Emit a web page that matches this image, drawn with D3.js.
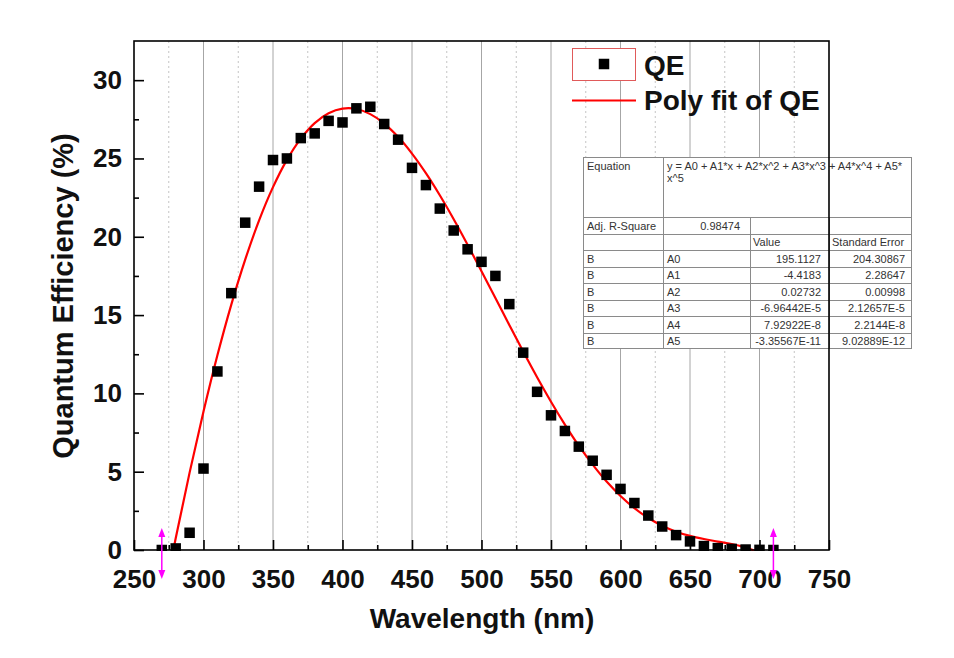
<!DOCTYPE html>
<html>
<head>
<meta charset="utf-8">
<script src="https://cdn.jsdelivr.net/npm/d3@7"></script>
<style>
  html, body { margin: 0; padding: 0; background: #fff; }
  svg { display: block; font-family: "Liberation Sans", Arial, sans-serif; }
</style>
</head>
<body>
<svg id="chart" width="954" height="658"></svg>
<script>
// ---------- data ----------
const wavelength = [270,280,290,300,310,320,330,340,350,360,370,380,390,400,410,420,430,440,450,460,470,480,490,500,510,520,530,540,550,560,570,580,590,600,610,620,630,640,650,660,670,680,690,700,710];
const qe = [0,0.1,1.1,5.2,11.4,16.4,20.9,23.2,24.9,25.0,26.3,26.6,27.4,27.3,28.2,28.3,27.2,26.2,24.4,23.3,21.8,20.4,19.2,18.4,17.5,15.7,12.6,10.1,8.6,7.6,6.6,5.7,4.8,3.9,3.0,2.2,1.5,0.95,0.55,0.25,0.12,0.07,0.03,0.01,0];
const fitQE = [-3.69,0.75,4.94,8.84,12.43,15.67,18.54,21.05,23.17,24.91,26.27,27.26,27.89,28.18,28.16,27.83,27.23,26.38,25.31,24.06,22.65,21.12,19.49,17.80,16.09,14.37,12.67,11.03,9.47,8.01,6.66,5.45,4.37,3.45,2.67,2.04,1.55,1.17,0.90,0.70,0.54,0.38,0.15,-0.19,-0.71];
const rangeMarks = [270, 710];
const xTicks = [250,300,350,400,450,500,550,600,650,700,750];
const xMinor = [275,325,375,425,475,525,575,625,675,725];
const yTicks = [0,5,10,15,20,25,30];
const yMinor = [2.5,7.5,12.5,17.5,22.5,27.5];
const legendLabels = ["QE", "Poly fit of QE"];
const equationText = ["y = A0 + A1*x + A2*x^2 + A3*x^3 + A4*x^4 + A5*", "x^5"];
const adjR2 = "0.98474";
const paramNames = ["A0","A1","A2","A3","A4","A5"];
const paramValues = ["195.1127","-4.4183","0.02732","-6.96442E-5","7.92922E-8","-3.35567E-11"];
const paramErrors = ["204.30867","2.28647","0.00998","2.12657E-5","2.2144E-8","9.02889E-12"];

// ---------- layout ----------
const L = 134, R = 829, T = 41, B = 550;
const svg = d3.select("#chart");
svg.append("rect").attr("width", 954).attr("height", 658).attr("fill", "#fff");

const x = d3.scaleLinear().domain([250, 750]).range([L, R]);
const y = d3.scaleLinear().domain([0, 32.5]).range([B, T]);

svg.append("defs").append("clipPath").attr("id", "plotclip")
  .append("rect").attr("x", L).attr("y", T).attr("width", R - L).attr("height", B - T + 1);

// grid
const grid = svg.append("g");
grid.selectAll("line.maj").data(xTicks.filter(d => d > 250 && d < 750)).enter().append("line")
  .attr("x1", d => x(d)).attr("x2", d => x(d)).attr("y1", T).attr("y2", B)
  .attr("stroke", "#a6a6a6").attr("stroke-width", 1);
grid.selectAll("line.min").data(xMinor).enter().append("line")
  .attr("x1", d => x(d)).attr("x2", d => x(d)).attr("y1", T).attr("y2", B)
  .attr("stroke", "#c4c4c4").attr("stroke-width", 1).attr("stroke-dasharray", "2,3");

// axes
const fontTick = 26;
const xAxis = d3.axisBottom(x).tickValues(xTicks).tickSizeInner(-10).tickSizeOuter(0).tickPadding(19.5).tickFormat(d3.format("d"));
const gx = svg.append("g").attr("transform", `translate(0,${B})`).call(xAxis);
const xAxisMinor = d3.axisBottom(x).tickValues(xMinor).tickSizeInner(-5).tickSizeOuter(0).tickFormat("");
const gxm = svg.append("g").attr("transform", `translate(0,${B})`).call(xAxisMinor);

const yAxis = d3.axisLeft(y).tickValues(yTicks).tickSizeInner(-10).tickSizeOuter(0).tickPadding(12).tickFormat(d3.format("d"));
const gy = svg.append("g").attr("transform", `translate(${L},0)`).call(yAxis);
const yAxisMinor = d3.axisLeft(y).tickValues(yMinor).tickSizeInner(-5).tickSizeOuter(0).tickFormat("");
const gym = svg.append("g").attr("transform", `translate(${L},0)`).call(yAxisMinor);

[gx, gxm, gy, gym].forEach(g => {
  g.select(".domain").remove();
  g.selectAll(".tick line").attr("stroke", "#000").attr("stroke-width", 1.6);
  g.selectAll(".tick text").attr("fill", "#111").attr("font-size", fontTick).attr("font-weight", "bold")
    .attr("font-family", "'Liberation Sans', Arial, sans-serif");
});

// fit line
const line = d3.line().x((d, i) => x(wavelength[i])).y(d => y(d)).curve(d3.curveCatmullRom.alpha(0.5));
svg.append("path").datum(fitQE).attr("clip-path", "url(#plotclip)")
  .attr("d", line).attr("fill", "none").attr("stroke", "#ff0000").attr("stroke-width", 2.2);

// data markers
const ms = 10.5;
svg.append("g").attr("clip-path", "url(#plotclip)").selectAll("rect").data(qe).enter().append("rect")
  .attr("x", (d, i) => x(wavelength[i]) - ms / 2).attr("y", d => y(d) - ms / 2)
  .attr("width", ms).attr("height", ms).attr("fill", "#000");

// frame
svg.append("rect").attr("x", L).attr("y", T).attr("width", R - L).attr("height", B - T)
  .attr("fill", "none").attr("stroke", "#000").attr("stroke-width", 1.6);

// range markers (magenta double arrows)
const mg = svg.append("g");
rangeMarks.forEach(v => {
  const cx = x(v);
  mg.append("line").attr("x1", cx).attr("x2", cx).attr("y1", 532).attr("y2", 575)
    .attr("stroke", "#ff00ff").attr("stroke-width", 1.5);
  mg.append("path").attr("d", `M${cx},528 L${cx - 3.5},537 L${cx + 3.5},537 Z`).attr("fill", "#ff00ff");
  mg.append("path").attr("d", `M${cx},579 L${cx - 3.5},570 L${cx + 3.5},570 Z`).attr("fill", "#ff00ff");
});

// axis titles
svg.append("text").attr("x", 482).attr("y", 628).attr("text-anchor", "middle")
  .attr("font-size", 28).attr("font-weight", "bold").attr("fill", "#111").text("Wavelength (nm)");
svg.append("text").attr("transform", "translate(73,296) rotate(-90)").attr("text-anchor", "middle")
  .attr("font-size", 29).attr("font-weight", "bold").attr("fill", "#111").text("Quantum Efficiency (%)");

// legend
const lg = svg.append("g");
lg.append("rect").attr("x", 572.5).attr("y", 48.5).attr("width", 63).attr("height", 32)
  .attr("fill", "#fff").attr("stroke", "#e05a5a").attr("stroke-width", 1);
lg.append("rect").attr("x", 604 - ms / 2).attr("y", 64 - ms / 2).attr("width", ms).attr("height", ms).attr("fill", "#000");
lg.append("line").attr("x1", 572).attr("x2", 636).attr("y1", 100.5).attr("y2", 100.5)
  .attr("stroke", "#ff0000").attr("stroke-width", 2.2);
lg.append("text").attr("x", 644).attr("y", 75).attr("font-size", 28).attr("font-weight", "bold").attr("fill", "#111").text(legendLabels[0]);
lg.append("text").attr("x", 644).attr("y", 110).attr("font-size", 28).attr("font-weight", "bold").attr("fill", "#111").text(legendLabels[1]);

// parameter table
const tb = svg.append("g").attr("font-size", 11).attr("fill", "#333");
const tx0 = 583, tx1 = 663, tx2 = 750, tx3 = 829, tx4 = 912;
const ty0 = 157, ty1 = 217, rowH = 16.5;
const nRows = 2 + paramNames.length;
const tyEnd = ty1 + nRows * rowH;
tb.append("rect").attr("x", tx0).attr("y", ty0).attr("width", tx4 - tx0).attr("height", tyEnd - ty0)
  .attr("fill", "#fff").attr("stroke", "none");
const lineColor = "#8a8a8a";
tb.append("rect").attr("x", tx0 + 0.5).attr("y", ty0 + 0.5).attr("width", tx4 - tx0 - 1).attr("height", tyEnd - ty0 - 1)
  .attr("fill", "none").attr("stroke", lineColor).attr("stroke-width", 1);
for (let r = 0; r < nRows; r++) {
  const yy = Math.round(ty1 + r * rowH) + 0.5;
  tb.append("line").attr("x1", tx0).attr("x2", tx4).attr("y1", yy).attr("y2", yy).attr("stroke", lineColor);
}
tb.append("line").attr("x1", tx1 + 0.5).attr("x2", tx1 + 0.5).attr("y1", ty0).attr("y2", tyEnd).attr("stroke", lineColor);
tb.append("line").attr("x1", tx2 + 0.5).attr("x2", tx2 + 0.5).attr("y1", ty1).attr("y2", tyEnd).attr("stroke", lineColor);
tb.append("line").attr("x1", tx3 + 0.5).attr("x2", tx3 + 0.5).attr("y1", ty1).attr("y2", tyEnd).attr("stroke", lineColor);
tb.append("text").attr("x", tx0 + 4).attr("y", ty0 + 13).text("Equation");
equationText.forEach((s, i) => tb.append("text").attr("x", tx1 + 4).attr("y", ty0 + 13 + i * 12).text(s));
tb.append("text").attr("x", tx0 + 4).attr("y", ty1 + 12.5).text("Adj. R-Square");
tb.append("text").attr("x", tx2 - 10).attr("y", ty1 + 12.5).attr("text-anchor", "end").text(adjR2);
tb.append("text").attr("x", tx2 + 3).attr("y", ty1 + rowH + 12.5).text("Value");
tb.append("text").attr("x", tx3 + 3).attr("y", ty1 + rowH + 12.5).text("Standard Error");
paramNames.forEach((p, i) => {
  const yy = ty1 + (i + 2) * rowH + 12.5;
  tb.append("text").attr("x", tx0 + 4).attr("y", yy).text("B");
  tb.append("text").attr("x", tx1 + 4).attr("y", yy).text(p);
  tb.append("text").attr("x", tx3 - 8).attr("y", yy).attr("text-anchor", "end").text(paramValues[i]);
  tb.append("text").attr("x", tx4 - 7).attr("y", yy).attr("text-anchor", "end").text(paramErrors[i]);
});
// frame line over the table (as in reference)
svg.append("line").attr("x1", R).attr("x2", R).attr("y1", ty0).attr("y2", tyEnd)
  .attr("stroke", "#000").attr("stroke-width", 1.6);
</script>
</body>
</html>
